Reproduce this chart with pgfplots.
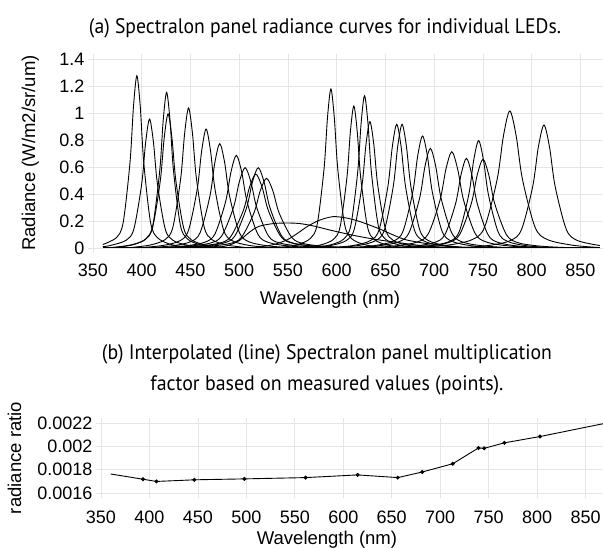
\documentclass[border=0pt]{standalone}
\usepackage{fontspec}
\setmainfont{Liberation Sans}
\newfontfamily\titlefont{PT Sans}
\usepackage{pgfplots}
\pgfplotsset{compat=1.18}
\begin{document}
\begin{tikzpicture}
\useasboundingbox (0pt,0pt) rectangle (603pt,549pt);
\pgfplotsset{
  myax/.style={
    scale only axis,
    anchor=south west,
    axis line style={draw=none},
    grid=major,
    major grid style={draw=black!10,line width=0.8pt},
    tick align=outside,
    major tick length=5pt,
    tick style={draw=black!10,line width=0.8pt},
    /pgf/number format/assume math mode=true,
    tick label style={font=\fontsize{18}{20}\selectfont},
    xtick={350,400,450,500,550,600,650,700,750,800,850},
  },
  led/.style={black,line width=0.9pt,smooth,no marks},
}
% ---------- (a) ----------
\begin{axis}[myax,at={(93pt,301pt)},width=507pt,height=189pt,
  xmin=350,xmax=870,ymin=0,ymax=1.4,
  xticklabel style={yshift=-7pt},
  ytick={0,0.2,0.4,0.6,0.8,1,1.2,1.4}]
\addplot[led] coordinates {(360,0.026) (374,0.077) (381,0.191) (388,0.638) (391.5,1.046) (395,1.276) (398.5,1.046) (402,0.638) (409,0.191) (416,0.077) (430,0.026) (451,0)};
\addplot[led] coordinates {(360,0.01) (368,0.019) (384,0.057) (392,0.143) (400,0.478) (404,0.783) (408,0.955) (412,0.783) (416,0.478) (424,0.143) (432,0.057) (448,0.019) (472,0)};
\addplot[led] coordinates {(369.5,0) (390.5,0.023) (404.5,0.069) (411.5,0.173) (418.5,0.577) (422,0.945) (425.5,1.153) (429,0.945) (432.5,0.577) (439.5,0.173) (446.5,0.069) (460.5,0.023) (481.5,0)};
\addplot[led] coordinates {(363,0) (387,0.02) (403,0.06) (411,0.149) (419,0.497) (423,0.814) (427,0.993) (431,0.814) (435,0.497) (443,0.149) (451,0.06) (467,0.02) (491,0)};
\addplot[led] coordinates {(384,0) (408,0.021) (424,0.062) (432,0.156) (440,0.519) (444,0.85) (448,1.037) (452,0.85) (456,0.519) (464,0.156) (472,0.062) (488,0.021) (512,0)};
\addplot[led] coordinates {(394,0) (421,0.018) (439,0.053) (448,0.132) (457,0.441) (461.5,0.722) (466,0.881) (470.5,0.722) (475,0.441) (484,0.132) (493,0.053) (511,0.018) (538,0)};
\addplot[led] coordinates {(400,0) (430,0.015) (450,0.046) (460,0.116) (470,0.387) (475,0.634) (480,0.773) (485,0.634) (490,0.387) (500,0.116) (510,0.046) (530,0.015) (560,0)};
\addplot[led] coordinates {(409,0) (442,0.014) (464,0.041) (475,0.103) (486,0.343) (491.5,0.563) (497,0.686) (502.5,0.563) (508,0.343) (519,0.103) (530,0.041) (552,0.014) (585,0)};
\addplot[led] coordinates {(410,0) (446,0.012) (470,0.036) (482,0.089) (494,0.298) (500,0.488) (506,0.595) (512,0.488) (518,0.298) (530,0.089) (542,0.036) (566,0.012) (602,0)};
\addplot[led] coordinates {(423.5,0) (459.5,0.012) (483.5,0.036) (495.5,0.089) (507.5,0.298) (513.5,0.488) (519.5,0.595) (525.5,0.488) (531.5,0.298) (543.5,0.089) (555.5,0.036) (579.5,0.012) (615.5,0)};
\addplot[led] coordinates {(413,0) (452,0.011) (478,0.033) (491,0.082) (504,0.274) (510.5,0.449) (517,0.548) (523.5,0.449) (530,0.274) (543,0.082) (556,0.033) (582,0.011) (621,0)};
\addplot[led] coordinates {(424,0) (463,0.01) (489,0.031) (502,0.077) (515,0.258) (521.5,0.423) (528,0.516) (534.5,0.423) (541,0.258) (554,0.077) (567,0.031) (593,0.01) (632,0)};
\addplot[led] coordinates {(460,0) (480,0.008) (490,0.022) (500,0.055) (511,0.12) (520,0.16) (535,0.181) (550,0.185) (562,0.181) (575,0.165) (593,0.133) (610,0.105) (624,0.084) (645,0.058) (668,0.035) (690,0.015) (710,0.004) (730,0)};
\addplot[led] coordinates {(500,0) (520,0.008) (535,0.025) (549,0.06) (560,0.11) (570,0.16) (582,0.205) (596,0.232) (610,0.222) (624,0.195) (644,0.141) (660,0.09) (672,0.059) (690,0.035) (700,0.027) (720,0.01) (745,0)};
\addplot[led] coordinates {(538,0) (559,0.024) (573,0.071) (580,0.177) (587,0.589) (590.5,0.966) (594,1.178) (597.5,0.966) (601,0.589) (608,0.177) (615,0.071) (629,0.024) (650,0)};
\addplot[led] coordinates {(561.5,0) (582.5,0.021) (596.5,0.063) (603.5,0.158) (610.5,0.526) (614,0.863) (617.5,1.052) (621,0.863) (624.5,0.526) (631.5,0.158) (638.5,0.063) (652.5,0.021) (673.5,0)};
\addplot[led] coordinates {(572.5,0) (593.5,0.023) (607.5,0.068) (614.5,0.169) (621.5,0.564) (625,0.925) (628.5,1.128) (632,0.925) (635.5,0.564) (642.5,0.169) (649.5,0.068) (663.5,0.023) (684.5,0)};
\addplot[led] coordinates {(570,0) (594,0.019) (610,0.056) (618,0.14) (626,0.468) (630,0.768) (634,0.936) (638,0.768) (642,0.468) (650,0.14) (658,0.056) (674,0.019) (698,0)};
\addplot[led] coordinates {(589.5,0) (616.5,0.018) (634.5,0.055) (643.5,0.137) (652.5,0.458) (657,0.751) (661.5,0.916) (666,0.751) (670.5,0.458) (679.5,0.137) (688.5,0.055) (706.5,0.018) (733.5,0)};
\addplot[led] coordinates {(595,0) (622,0.018) (640,0.055) (649,0.137) (658,0.458) (662.5,0.751) (667,0.916) (671.5,0.751) (676,0.458) (685,0.137) (694,0.055) (712,0.018) (739,0)};
\addplot[led] coordinates {(608,0) (638,0.017) (658,0.05) (668,0.125) (678,0.415) (683,0.681) (688,0.83) (693,0.681) (698,0.415) (708,0.125) (718,0.05) (738,0.017) (768,0)};
\addplot[led] coordinates {(608,0) (641,0.015) (663,0.044) (674,0.111) (685,0.369) (690.5,0.605) (696,0.738) (701.5,0.605) (707,0.369) (718,0.111) (729,0.044) (751,0.015) (784,0)};
\addplot[led] coordinates {(622,0) (658,0.014) (682,0.043) (694,0.107) (706,0.357) (712,0.585) (718,0.713) (724,0.585) (730,0.357) (742,0.107) (754,0.043) (778,0.014) (814,0)};
\addplot[led] coordinates {(645,0) (678,0.013) (700,0.04) (711,0.1) (722,0.332) (727.5,0.544) (733,0.664) (738.5,0.544) (744,0.332) (755,0.1) (766,0.04) (788,0.013) (821,0)};
\addplot[led] coordinates {(665.5,0) (695.5,0.016) (715.5,0.048) (725.5,0.119) (735.5,0.398) (740.5,0.652) (745.5,0.795) (750.5,0.652) (755.5,0.398) (765.5,0.119) (775.5,0.048) (795.5,0.016) (825.5,0)};
\addplot[led] coordinates {(654,0) (690,0.013) (714,0.039) (726,0.099) (738,0.329) (744,0.539) (750,0.657) (756,0.539) (762,0.329) (774,0.099) (786,0.039) (810,0.013) (846,0)};
\addplot[led] coordinates {(673.5,0) (712.5,0.02) (738.5,0.061) (751.5,0.152) (764.5,0.508) (771,0.832) (777.5,1.015) (784,0.832) (790.5,0.508) (803.5,0.152) (816.5,0.061) (842.5,0.02) (870,0.003)};
\addplot[led] coordinates {(720.5,0) (755,0.018) (778,0.055) (789.5,0.137) (801,0.456) (806.75,0.747) (812.5,0.911) (818.25,0.747) (824,0.456) (835.5,0.137) (847,0.055) (870,0.018)};
\addplot[black,line width=1.4pt,no marks] coordinates {(360,0) (870,0)};
\end{axis}
% ---------- (b) ----------
\begin{axis}[myax,at={(101pt,56pt)},width=502pt,height=70pt,
  xmin=350,xmax=868,ymin=0.0016,ymax=0.0022,
  scaled y ticks=false,
  xticklabel style={yshift=-9pt},
  ytick={0.0016,0.0018,0.002,0.0022},
  yticklabels={0.0016,0.0018,0.002,0.0022}]
\addplot[black,line width=0.9pt,no marks] coordinates {(360,0.001763) (393.4,0.001718) (407.2,0.001699) (446.3,0.001713) (498,0.001721) (561.1,0.001732) (614.8,0.001755) (656.2,0.001732) (681.5,0.00178) (713,0.001851) (739.5,0.001986) (745.4,0.001983) (766.3,0.00203) (803,0.002084) (870,0.002197)};
\addplot[black,only marks,mark=*,mark size=1.8pt] coordinates {(393.4,0.001718) (407.2,0.001699) (446.3,0.001713) (498,0.001721) (561.1,0.001732) (614.8,0.001755) (656.2,0.001732) (681.5,0.00178) (713,0.001851) (739.5,0.001986) (745.4,0.001983) (766.3,0.00203) (803,0.002084)};
\end{axis}
% ---------- texts ----------
\node[font=\titlefont\fontsize{21}{24}\selectfont] at (325pt,521pt) {\resizebox{472pt}{\height}{(a) Spectralon panel radiance curves for individual LEDs.}};
\node[font=\fontsize{18.5}{20}\selectfont,rotate=90,anchor=base] at (35pt,396pt) {Radiance (W/m2/sr/um)};
\node[font=\fontsize{18.5}{20}\selectfont] at (330pt,249pt) {Wavelength (nm)};
\node[font=\titlefont\fontsize{21}{24}\selectfont] at (327pt,195pt) {\resizebox{450pt}{\height}{(b) Interpolated (line) Spectralon panel multiplication}};
\node[font=\titlefont\fontsize{21}{24}\selectfont] at (327pt,164pt) {\resizebox{353pt}{\height}{factor based on measured values (points).}};
\node[font=\fontsize{18.5}{20}\selectfont,rotate=90,anchor=base] at (21pt,91pt) {radiance ratio};
\node[font=\fontsize{18.5}{20}\selectfont] at (327pt,9pt) {Wavelength (nm)};
\end{tikzpicture}
\end{document}
